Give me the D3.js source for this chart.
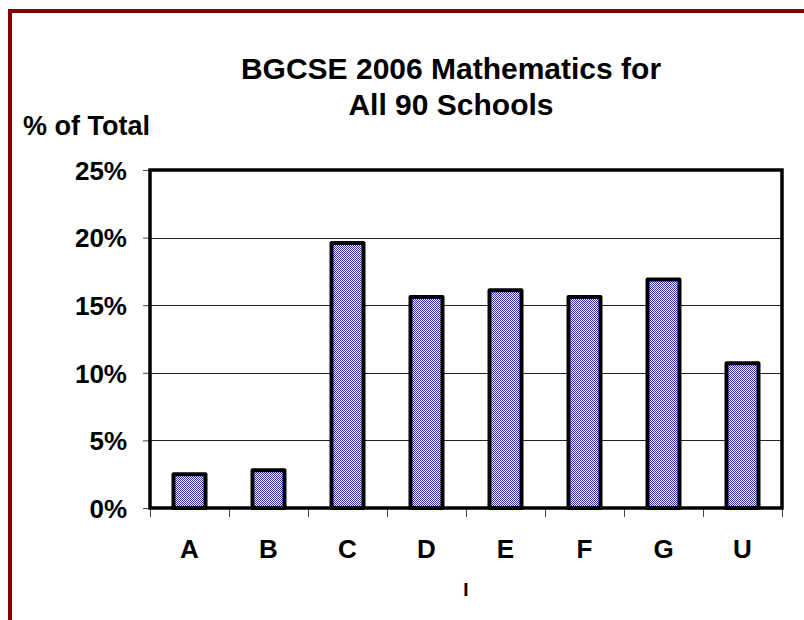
<!DOCTYPE html>
<html>
<head>
<meta charset="utf-8">
<script src="https://cdn.jsdelivr.net/npm/d3@7"></script>
<style>
  html, body { margin: 0; padding: 0; background: #fff; }
  svg { display: block; }
  text { font-family: "Liberation Sans", Arial, sans-serif; font-weight: bold; fill: #000; }
</style>
</head>
<body>
<script>
const categories = ["A", "B", "C", "D", "E", "F", "G", "U"];
const values = [2.5, 2.8, 19.6, 15.6, 16.1, 15.6, 16.9, 10.7];
const yTickValues = [0, 5, 10, 15, 20, 25];
const titleLines = ["BGCSE 2006 Mathematics for", "All 90 Schools"];
const yAxisTitle = "% of Total";
const xAxisTitle = "I";

const W = 804, H = 620;
const plot = { left: 150, right: 782, top: 170, bottom: 508 };

const svg = d3.select("body").append("svg").attr("width", W).attr("height", H);

// pattern fill
const defs = svg.append("defs");
const pat = defs.append("pattern").attr("id", "chk")
  .attr("patternUnits", "userSpaceOnUse").attr("width", 2).attr("height", 2);
pat.append("rect").attr("width", 2).attr("height", 2).attr("fill", "#ffffff");
pat.append("rect").attr("x", 0).attr("y", 0).attr("width", 1).attr("height", 1).attr("fill", "#2f2fbf");
pat.append("rect").attr("x", 1).attr("y", 1).attr("width", 1).attr("height", 1).attr("fill", "#2f2fbf");

// outer dark-red frame
svg.append("rect").attr("x", 10).attr("y", 11).attr("width", 1000).attr("height", 1000)
  .attr("fill", "none").attr("stroke", "#800000").attr("stroke-width", 4);

const x = d3.scaleBand().domain(categories).range([plot.left, plot.right])
  .paddingInner(0.595).paddingOuter(0.2975);
const y = d3.scaleLinear().domain([0, 25]).range([plot.bottom, plot.top]);

// gridlines
svg.append("g").selectAll("line").data(yTickValues.filter(d => d > 0 && d < 25)).join("line")
  .attr("x1", plot.left).attr("x2", plot.right)
  .attr("y1", d => Math.round(y(d)) + 0.5).attr("y2", d => Math.round(y(d)) + 0.5)
  .attr("stroke", "#222").attr("stroke-width", 1);

// y axis
const yAxis = d3.axisLeft(y).tickValues(yTickValues).tickFormat(d => d + "%")
  .tickSize(7).tickPadding(16);
const gy = svg.append("g").attr("transform", `translate(${plot.left},0)`).call(yAxis);
gy.select(".domain").remove();
gy.selectAll(".tick line").attr("stroke", "#444").attr("stroke-width", 1);
gy.selectAll(".tick text").style("font-size", "26px").style("font-family", '"Liberation Sans", Arial, sans-serif')
  .style("font-weight", "bold").attr("dy", "0.36em");

// x ticks at category boundaries
const step = x.step();
const bounds = categories.map(c => x(c) + x.bandwidth() / 2 - step / 2);
bounds.push(x(categories[categories.length - 1]) + x.bandwidth() / 2 + step / 2);
svg.append("g").selectAll("line").data(bounds).join("line")
  .attr("x1", d => Math.round(d) + 0.5).attr("x2", d => Math.round(d) + 0.5)
  .attr("y1", plot.bottom).attr("y2", plot.bottom + 9)
  .attr("stroke", "#444").attr("stroke-width", 1);

// x labels
const xAxis = d3.axisBottom(x).tickSize(0).tickPadding(0);
const gx = svg.append("g").attr("transform", `translate(0,${plot.bottom})`).call(xAxis);
gx.select(".domain").remove();
gx.selectAll(".tick text").attr("y", 50).attr("dy", 0)
  .style("font-size", "26px").style("font-family", '"Liberation Sans", Arial, sans-serif').style("font-weight", "bold");

// bars
svg.append("g").selectAll("rect").data(values).join("rect")
  .attr("x", (d, i) => x(categories[i]))
  .attr("y", d => y(d))
  .attr("width", x.bandwidth())
  .attr("height", d => y(0) - y(d))
  .attr("fill", "url(#chk)")
  .attr("stroke", "#000").attr("stroke-width", 4).attr("stroke-linejoin", "round");

// plot frame
svg.append("rect").attr("x", plot.left).attr("y", plot.top)
  .attr("width", plot.right - plot.left).attr("height", plot.bottom - plot.top)
  .attr("fill", "none").attr("stroke", "#000").attr("stroke-width", 3.5);

// titles
svg.append("text").attr("x", 451).attr("y", 79).attr("text-anchor", "middle")
  .style("font-size", "30px").text(titleLines[0]);
svg.append("text").attr("x", 451).attr("y", 115).attr("text-anchor", "middle")
  .style("font-size", "30px").text(titleLines[1]);
svg.append("text").attr("x", 23).attr("y", 135).style("font-size", "27px").text(yAxisTitle);
svg.append("text").attr("x", 466).attr("y", 596).attr("text-anchor", "middle")
  .style("font-size", "19px").text(xAxisTitle);
</script>
</body>
</html>
